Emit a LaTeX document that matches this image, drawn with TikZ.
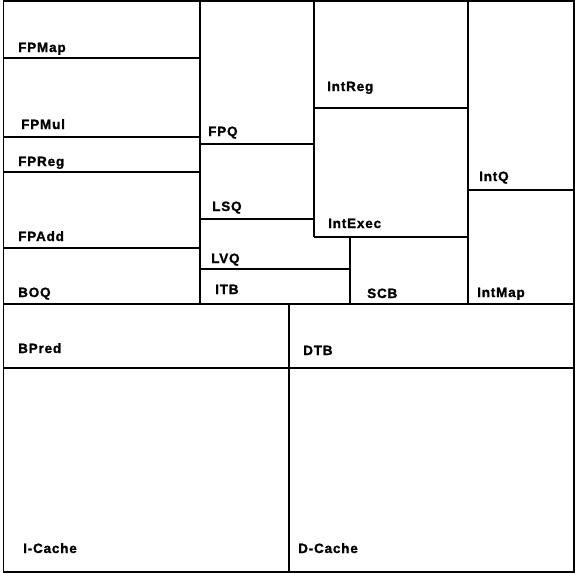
\documentclass[tikz,border=0pt]{standalone}
\usepackage{fontspec}
\newfontfamily\blockfont[LetterSpace=6, FakeBold=1.2]{Liberation Sans Bold}

\begin{document}
\begin{tikzpicture}[
    x=1pt, y=-1pt,
    block/.style={draw=black, line width=1.1pt},
    unit/.style={anchor=base west, inner sep=0pt,
        font=\blockfont\fontsize{13.5}{15}\selectfont}
]
    % Define floorplan dimensions
    \def\planL{3.5}
    \def\planR{574}
    \def\planT{1}
    \def\planB{572}
    \def\colA{200}
    \def\colB{314}
    \def\colC{350}
    \def\colD{468}
    \def\colE{289}
    \useasboundingbox (0,0) rectangle (575,573);

    % Draw the die outline
    \draw[block] (\planL,\planT) rectangle (\planR,\planB);

    % Core / cache split
    \draw[block] (\planL,304) -- (\planR,304);
    \draw[block] (\planL,368) -- (\planR,368);
    \draw[block] (\colE,304) -- (\colE,\planB);

    % Floating point column
    \draw[block] (\colA,\planT) -- (\colA,304);
    \foreach \y in {58,137,172,248}
        \draw[block] (\planL,\y) -- (\colA,\y);

    % Queues
    \draw[block] (\colB,\planT) -- (\colB,237);
    \draw[block] (\colA,144) -- (\colB,144);
    \draw[block] (\colA,219) -- (\colB,219);
    \draw[block] (\colA,269) -- (\colC,269);

    % Integer side
    \draw[block] (\colB,108) -- (\colD,108);
    \draw[block] (\colB,237) -- (\colD,237);
    \draw[block] (\colC,237) -- (\colC,304);
    \draw[block] (\colD,\planT) -- (\colD,304);
    \draw[block] (\colD,190) -- (\planR,190);

    % Unit labels
    \foreach \name/\txt/\x/\y in {
        fpmap/FPMap/18/52, fpmul/FPMul/21/129, fpreg/FPReg/18/166,
        fpadd/FPAdd/18/241, boq/BOQ/18/297,
        fpq/FPQ/208/136, lsq/LSQ/212/211, lvq/LVQ/211/263, itb/ITB/215/294,
        intreg/IntReg/327/91, intexec/IntExec/328/228, scb/SCB/367/298,
        intq/IntQ/479/181, intmap/IntMap/477/297,
        bpred/BPred/18/353, dtb/DTB/303/355,
        icache/I-Cache/23/553, dcache/D-Cache/298/553}
        \node[unit] (\name) at (\x,\y) {\txt};
\end{tikzpicture}
\end{document}
